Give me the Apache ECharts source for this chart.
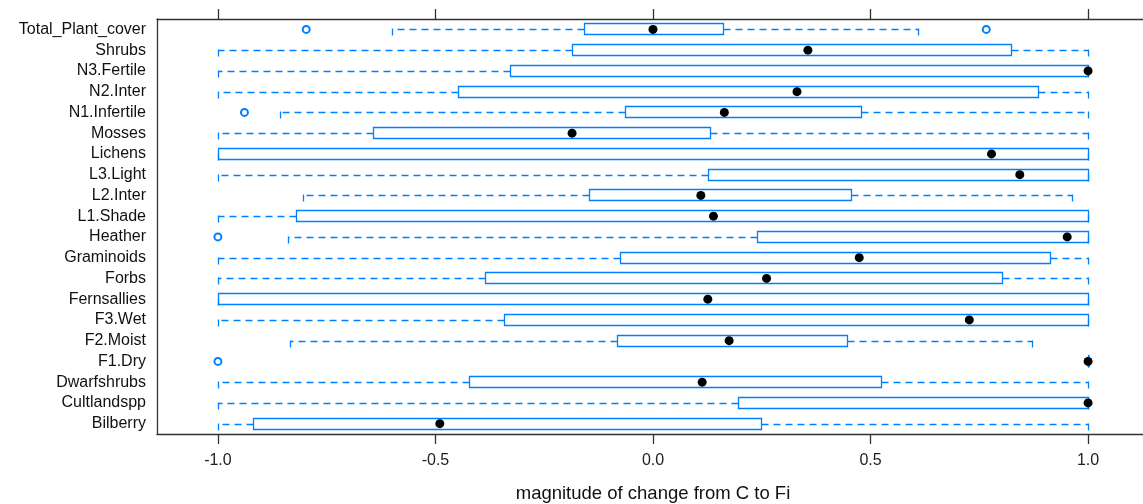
<!DOCTYPE html>
<html>
<head>
<meta charset="utf-8">
<title>magnitude of change from C to Fi</title>
<script src="https://cdn.jsdelivr.net/npm/echarts@6/dist/echarts.min.js"></script>
<style>
  html, body { margin: 0; padding: 0; background: #fff; }
  #chart { width: 1143px; height: 504px; }
</style>
</head>
<body>
<div id="chart"></div>
<script>
// rows, top to bottom
const categories = [
  'Total_Plant_cover', 'Shrubs', 'N3.Fertile', 'N2.Inter', 'N1.Infertile',
  'Mosses', 'Lichens', 'L3.Light', 'L2.Inter', 'L1.Shade',
  'Heather', 'Graminoids', 'Forbs', 'Fernsallies', 'F3.Wet',
  'F2.Moist', 'F1.Dry', 'Dwarfshrubs', 'Cultlandspp', 'Bilberry'
]

const lowerWhisker = [-0.60, -1, -1, -1, -0.858, -1, -1, -1, -0.805, -1, -0.838, -1, -1, -1, -1, -0.834, 1, -1, -1, -1]
const lowerQuartile = [-0.159, -0.187, -0.329, -0.448, -0.064, -0.644, -1, 0.126, -0.148, -0.820, 0.239, -0.076, -0.386, -1, -0.342, -0.083, 1, -0.422, 0.195, -0.920]
const medians = [0.0, 0.356, 1.0, 0.331, 0.164, -0.186, 0.778, 0.843, 0.110, 0.139, 0.952, 0.474, 0.261, 0.126, 0.727, 0.175, 1.0, 0.113, 1.0, -0.490]
const upperQuartile = [0.162, 0.823, 1, 0.885, 0.477, 0.130, 1, 1, 0.455, 1, 1, 0.913, 0.801, 1, 1, 0.445, 1, 0.524, 1, 0.249]
const upperWhisker = [0.609, 1, 1, 1, 1, 1, 1, 1, 0.964, 1, 1, 1, 1, 1, 1, 0.871, 1, 1, 1, 1]

const outlierRows = ['Total_Plant_cover', 'Total_Plant_cover', 'N1.Infertile', 'Heather', 'F1.Dry']
const outlierValues = [-0.797, 0.766, -0.939, -1, -1]

const tickValues = [-1, -0.5, 0, 0.5, 1]

const BLUE = '#0080ff'
const FONT = '"Liberation Sans", Arial, sans-serif'

const boxData = categories.map((c, i) => [
  i, lowerWhisker[i], lowerQuartile[i], medians[i], upperQuartile[i], upperWhisker[i]
])

// crisp 1px lines
const px = v => Math.round(v) + 0.5

// box + dashed whiskers + caps, lattice style
const renderBox = (params, api) => {
  const row = api.value(0)
  const lo = px(api.coord([api.value(1), row])[0])
  const q1 = px(api.coord([api.value(2), row])[0])
  const q3 = px(api.coord([api.value(4), row])[0])
  const hi = px(api.coord([api.value(5), row])[0])
  const y = px(api.coord([0, row])[1])
  const band = api.size([0, 1])[1]
  const h = Math.round(band * 0.52)
  const dashed = { stroke: BLUE, lineWidth: 1.3, lineDash: [7, 5] }
  const solid = { stroke: BLUE, lineWidth: 1.3 }

  const children = []
  if (q1 - lo > 0.5) {
    children.push({ type: 'line', shape: { x1: q1, y1: y, x2: lo, y2: y }, style: dashed })
  }
  if (hi - q3 > 0.5) {
    children.push({ type: 'line', shape: { x1: q3, y1: y, x2: hi, y2: y }, style: dashed })
  }
  children.push({ type: 'line', shape: { x1: lo, y1: y - 1, x2: lo, y2: y + 6 }, style: solid })
  children.push({ type: 'line', shape: { x1: hi, y1: y - 1, x2: hi, y2: y + 6 }, style: solid })
  children.push({
    type: 'rect',
    shape: { x: q1, y: y - Math.round(h / 2), width: Math.max(q3 - q1, 0.5), height: h },
    style: { fill: 'none', stroke: BLUE, lineWidth: 1.3 }
  })
  return { type: 'group', children }
}

const chart = echarts.init(document.getElementById('chart'))

const axisLineStyle = { color: '#333', width: 1.3 }

const option = {
  animation: false,
  backgroundColor: '#fff',
  grid: { left: 157, right: -6, top: 19, bottom: 70, outerBoundsMode: 'none', containLabel: false },
  xAxis: [
    {
      type: 'value',
      position: 'bottom',
      min: -1.14,
      max: 1.14,
      name: 'magnitude of change from C to Fi',
      nameLocation: 'middle',
      nameGap: 50,
      nameTextStyle: { fontSize: 18.5, color: '#111', fontFamily: FONT },
      splitLine: { show: false },
      axisLine: { show: true, onZero: false, lineStyle: axisLineStyle },
      axisTick: { show: true, customValues: tickValues, length: 10, lineStyle: axisLineStyle },
      axisLabel: {
        customValues: tickValues,
        margin: 19,
        fontSize: 16,
        color: '#222',
        fontFamily: FONT,
        formatter: v => v.toFixed(1)
      }
    },
    {
      type: 'value',
      position: 'top',
      min: -1.14,
      max: 1.14,
      splitLine: { show: false },
      axisLine: { show: true, onZero: false, lineStyle: axisLineStyle },
      axisTick: { show: true, customValues: tickValues, length: 10, lineStyle: axisLineStyle },
      axisLabel: { show: false }
    }
  ],
  yAxis: {
    type: 'category',
    data: categories,
    inverse: true,
    axisLine: { show: true, onZero: false, lineStyle: axisLineStyle },
    axisTick: { show: false },
    splitLine: { show: false },
    axisLabel: { interval: 0, margin: 11, fontSize: 16, color: '#111', fontFamily: FONT }
  },
  series: [
    {
      type: 'custom',
      renderItem: renderBox,
      encode: { x: [1, 2, 3, 4, 5], y: 0 },
      data: boxData,
      z: 2
    },
    {
      // medians
      type: 'scatter',
      symbol: 'circle',
      symbolSize: 9,
      itemStyle: { color: '#000', opacity: 1 },
      data: categories.map((c, i) => [medians[i], c]),
      z: 3
    },
    {
      // outliers
      type: 'scatter',
      symbol: 'emptyCircle',
      symbolSize: 7,
      itemStyle: { color: BLUE, borderColor: BLUE, borderWidth: 1.2, opacity: 1 },
      data: outlierRows.map((c, i) => [outlierValues[i], c]),
      z: 3
    }
  ]
}

chart.setOption(option)
</script>
</body>
</html>
